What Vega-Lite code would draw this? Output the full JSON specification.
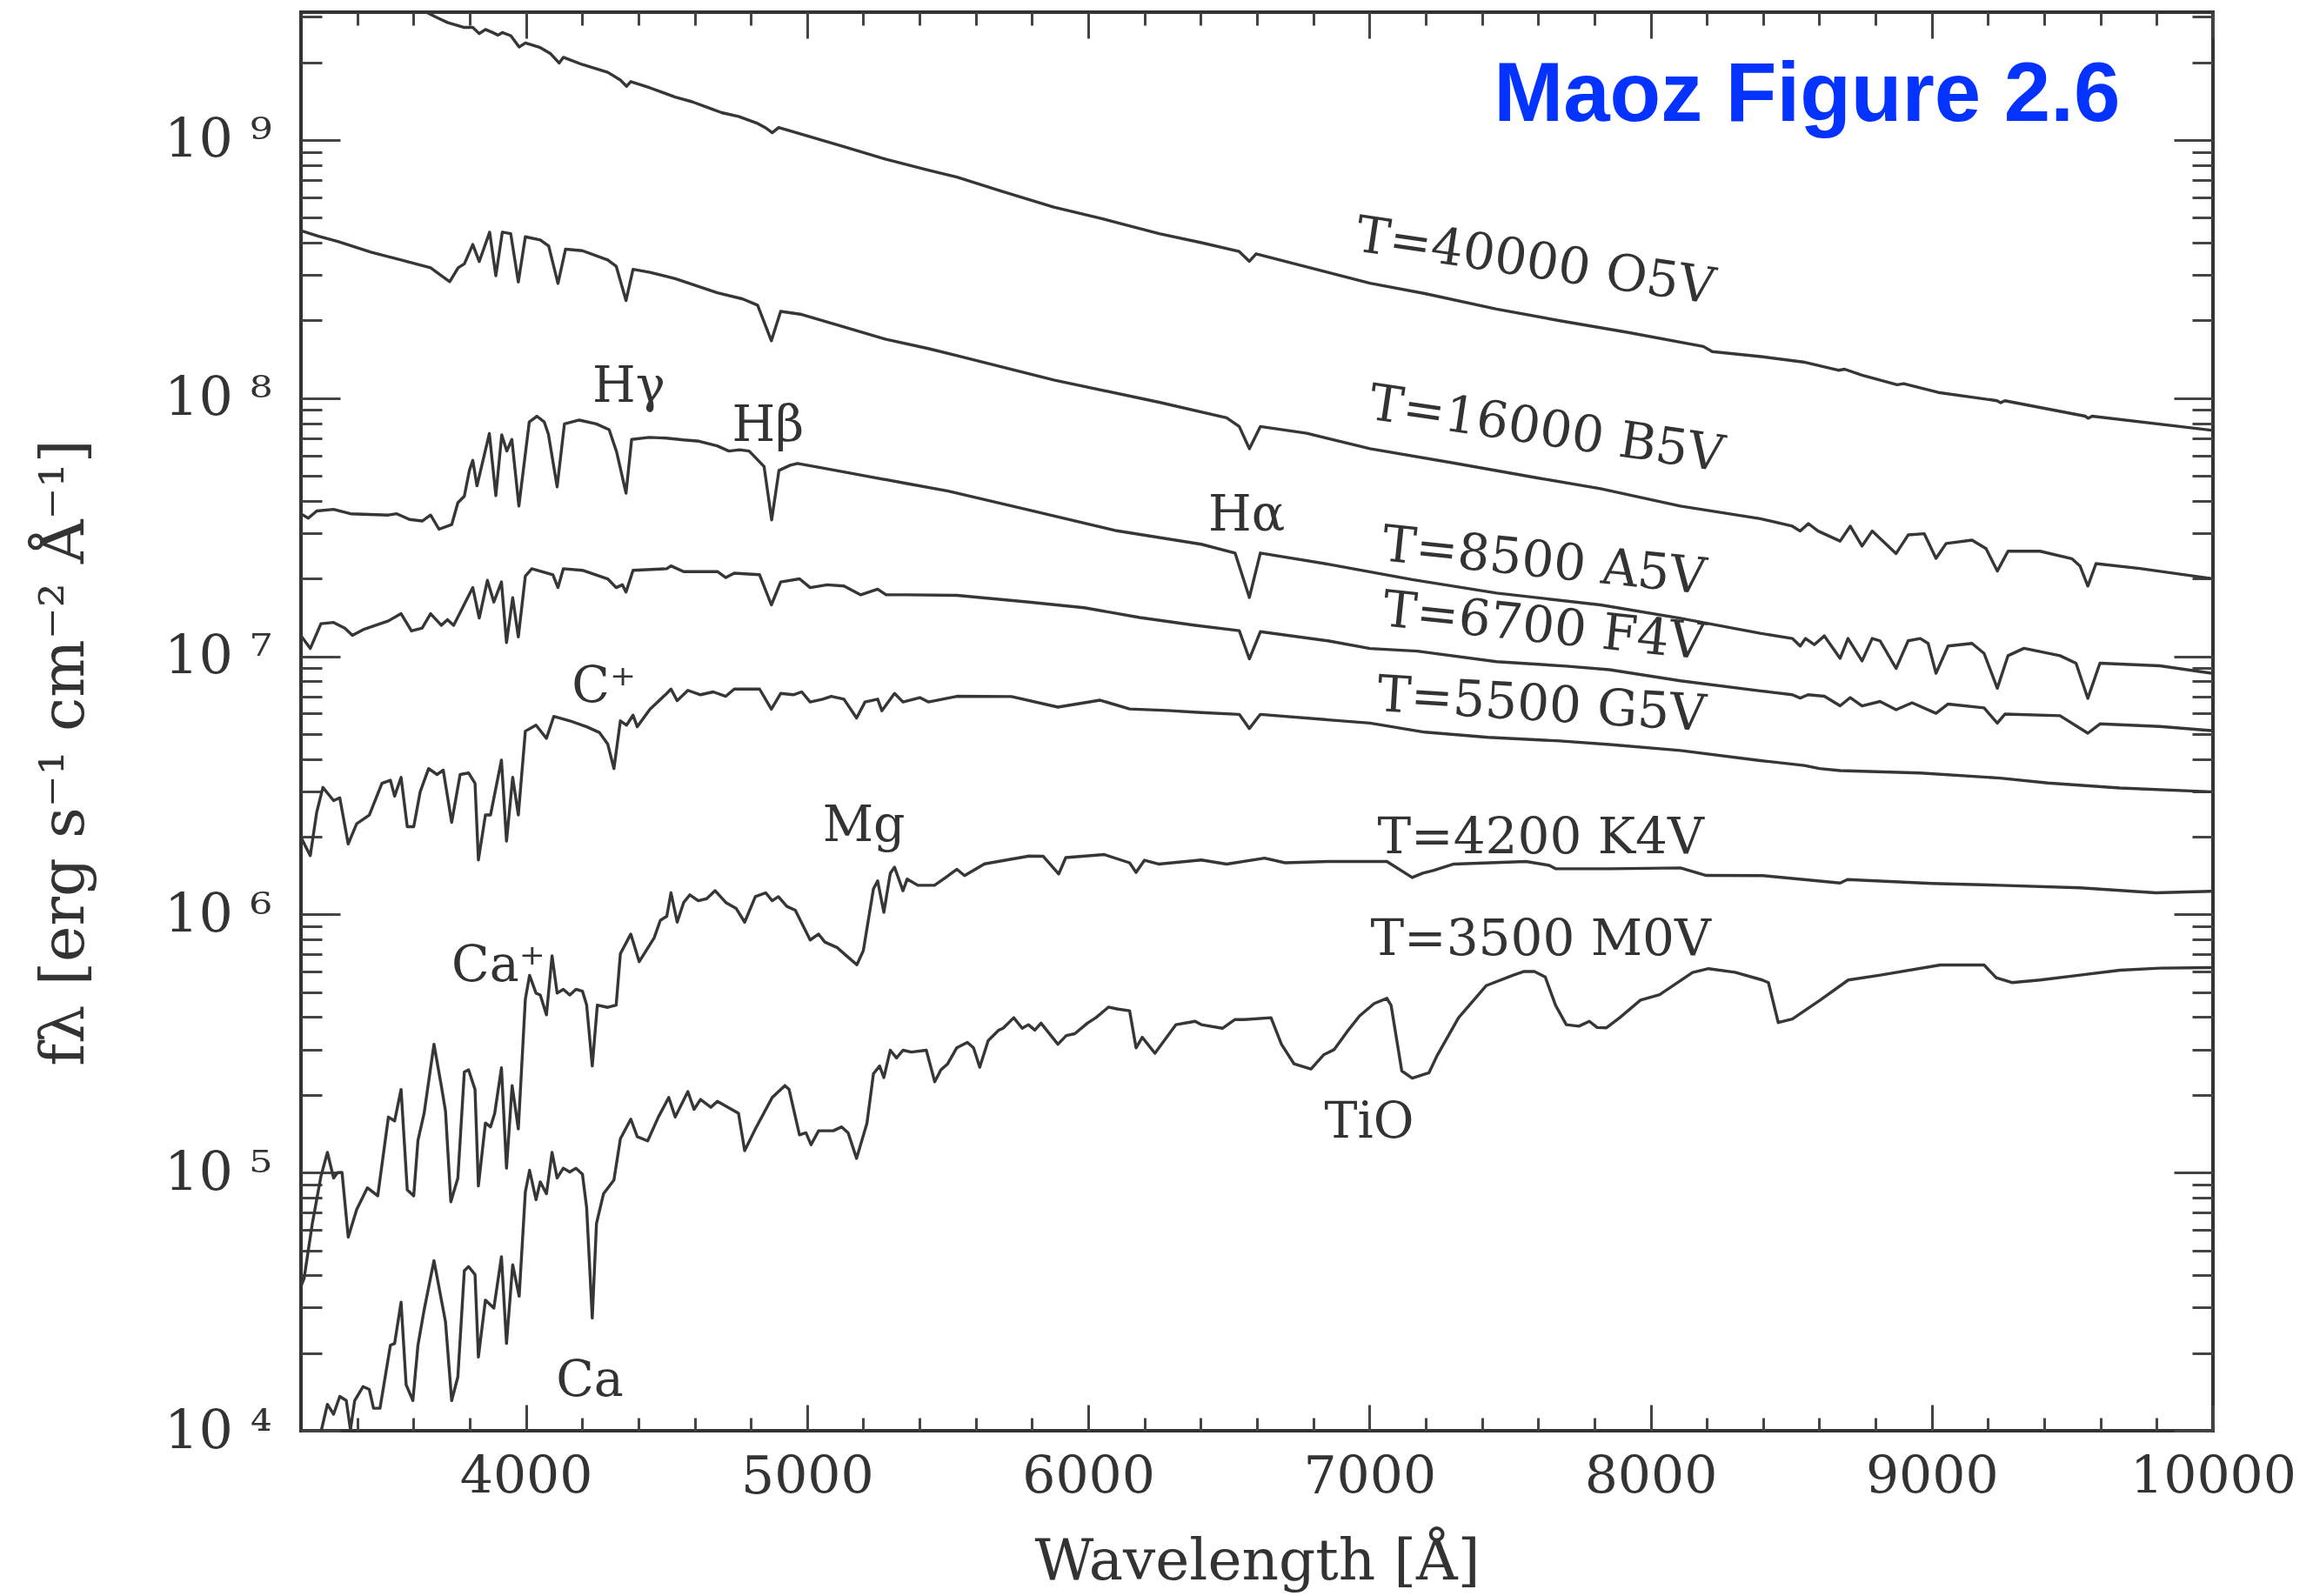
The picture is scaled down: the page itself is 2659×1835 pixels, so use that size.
{
  "$schema": "https://vega.github.io/schema/vega-lite/v6.json",
  "width": 2198,
  "height": 1631,
  "autosize": {"type": "none"},
  "padding": {"left": 346, "top": 14, "right": 115, "bottom": 190},
  "background": "white",
  "config": {
    "view": {"stroke": "#333333", "strokeWidth": 4},
    "axis": {"grid": false, "domain": false}
  },
  "datasets": {
    "spec": [
      {"s":"O5V","w":3600,"f":3.236e9},{"s":"O5V","w":3646,"f":3.126e9},{"s":"O5V","w":3676,"f":3.006e9},{"s":"O5V","w":3721,"f":2.851e9},{"s":"O5V","w":3781,"f":2.729e9},{"s":"O5V","w":3811,"f":2.729e9},{"s":"O5V","w":3834,"f":2.582e9},{"s":"O5V","w":3856,"f":2.679e9},{"s":"O5V","w":3878,"f":2.618e9},{"s":"O5V","w":3901,"f":2.547e9},{"s":"O5V","w":3916,"f":2.606e9},{"s":"O5V","w":3946,"f":2.535e9},{"s":"O5V","w":3976,"f":2.291e9},{"s":"O5V","w":3998,"f":2.377e9},{"s":"O5V","w":4051,"f":2.280e9},{"s":"O5V","w":4088,"f":2.158e9},{"s":"O5V","w":4118,"f":1.986e9},{"s":"O5V","w":4133,"f":2.089e9},{"s":"O5V","w":4201,"f":1.959e9},{"s":"O5V","w":4291,"f":1.828e9},{"s":"O5V","w":4336,"f":1.706e9},{"s":"O5V","w":4358,"f":1.614e9},{"s":"O5V","w":4373,"f":1.683e9},{"s":"O5V","w":4441,"f":1.592e9},{"s":"O5V","w":4531,"f":1.466e9},{"s":"O5V","w":4591,"f":1.406e9},{"s":"O5V","w":4651,"f":1.330e9},{"s":"O5V","w":4696,"f":1.276e9},{"s":"O5V","w":4756,"f":1.233e9},{"s":"O5V","w":4824,"f":1.159e9},{"s":"O5V","w":4854,"f":1.112e9},{"s":"O5V","w":4876,"f":1.067e9},{"s":"O5V","w":4899,"f":1.117e9},{"s":"O5V","w":4981,"f":1.052e9},{"s":"O5V","w":5131,"f":9.419e8},{"s":"O5V","w":5281,"f":8.414e8},{"s":"O5V","w":5431,"f":7.638e8},{"s":"O5V","w":5533,"f":7.178e8},{"s":"O5V","w":5697,"f":6.310e8},{"s":"O5V","w":5877,"f":5.495e8},{"s":"O5V","w":6042,"f":4.977e8},{"s":"O5V","w":6252,"f":4.335e8},{"s":"O5V","w":6402,"f":4.000e8},{"s":"O5V","w":6537,"f":3.698e8},{"s":"O5V","w":6573,"f":3.388e8},{"s":"O5V","w":6597,"f":3.622e8},{"s":"O5V","w":6777,"f":3.221e8},{"s":"O5V","w":7002,"f":2.786e8},{"s":"O5V","w":7197,"f":2.541e8},{"s":"O5V","w":7452,"f":2.213e8},{"s":"O5V","w":7677,"f":1.995e8},{"s":"O5V","w":7916,"f":1.799e8},{"s":"O5V","w":8188,"f":1.585e8},{"s":"O5V","w":8219,"f":1.514e8},{"s":"O5V","w":8400,"f":1.445e8},{"s":"O5V","w":8543,"f":1.380e8},{"s":"O5V","w":8668,"f":1.282e8},{"s":"O5V","w":8690,"f":1.294e8},{"s":"O5V","w":8752,"f":1.227e8},{"s":"O5V","w":8877,"f":1.127e8},{"s":"O5V","w":8900,"f":1.138e8},{"s":"O5V","w":9023,"f":1.052e8},{"s":"O5V","w":9232,"f":9.772e7},{"s":"O5V","w":9245,"f":9.594e7},{"s":"O5V","w":9260,"f":9.772e7},{"s":"O5V","w":9546,"f":8.511e7},{"s":"O5V","w":9556,"f":8.356e7},{"s":"O5V","w":9570,"f":8.511e7},{"s":"O5V","w":10000,"f":7.499e7},

      {"s":"B5V","w":3199,"f":4.457e8},{"s":"B5V","w":3260,"f":4.246e8},{"s":"B5V","w":3331,"f":4.046e8},{"s":"B5V","w":3451,"f":3.673e8},{"s":"B5V","w":3556,"f":3.428e8},{"s":"B5V","w":3661,"f":3.199e8},{"s":"B5V","w":3699,"f":2.985e8},{"s":"B5V","w":3729,"f":2.825e8},{"s":"B5V","w":3759,"f":3.199e8},{"s":"B5V","w":3781,"f":3.311e8},{"s":"B5V","w":3811,"f":3.936e8},{"s":"B5V","w":3834,"f":3.381e8},{"s":"B5V","w":3871,"f":4.395e8},{"s":"B5V","w":3893,"f":2.979e8},{"s":"B5V","w":3916,"f":4.395e8},{"s":"B5V","w":3946,"f":4.335e8},{"s":"B5V","w":3973,"f":2.818e8},{"s":"B5V","w":3998,"f":4.217e8},{"s":"B5V","w":4051,"f":4.102e8},{"s":"B5V","w":4081,"f":3.882e8},{"s":"B5V","w":4114,"f":2.780e8},{"s":"B5V","w":4141,"f":3.776e8},{"s":"B5V","w":4201,"f":3.724e8},{"s":"B5V","w":4291,"f":3.428e8},{"s":"B5V","w":4321,"f":3.243e8},{"s":"B5V","w":4356,"f":2.388e8},{"s":"B5V","w":4381,"f":3.155e8},{"s":"B5V","w":4441,"f":3.069e8},{"s":"B5V","w":4531,"f":2.904e8},{"s":"B5V","w":4681,"f":2.559e8},{"s":"B5V","w":4771,"f":2.421e8},{"s":"B5V","w":4824,"f":2.291e8},{"s":"B5V","w":4873,"f":1.667e8},{"s":"B5V","w":4906,"f":2.168e8},{"s":"B5V","w":4981,"f":2.109e8},{"s":"B5V","w":5131,"f":1.888e8},{"s":"B5V","w":5281,"f":1.690e8},{"s":"B5V","w":5431,"f":1.556e8},{"s":"B5V","w":5533,"f":1.462e8},{"s":"B5V","w":5877,"f":1.175e8},{"s":"B5V","w":6252,"f":9.638e7},{"s":"B5V","w":6492,"f":8.395e7},{"s":"B5V","w":6537,"f":7.762e7},{"s":"B5V","w":6573,"f":6.368e7},{"s":"B5V","w":6612,"f":7.762e7},{"s":"B5V","w":6777,"f":7.311e7},{"s":"B5V","w":7002,"f":6.368e7},{"s":"B5V","w":7302,"f":5.598e7},{"s":"B5V","w":7602,"f":4.898e7},{"s":"B5V","w":7822,"f":4.457e7},{"s":"B5V","w":8106,"f":3.819e7},{"s":"B5V","w":8390,"f":3.412e7},{"s":"B5V","w":8504,"f":3.192e7},{"s":"B5V","w":8532,"f":3.055e7},{"s":"B5V","w":8561,"f":3.266e7},{"s":"B5V","w":8596,"f":3.055e7},{"s":"B5V","w":8674,"f":2.793e7},{"s":"B5V","w":8710,"f":3.192e7},{"s":"B5V","w":8752,"f":2.673e7},{"s":"B5V","w":8788,"f":3.055e7},{"s":"B5V","w":8873,"f":2.500e7},{"s":"B5V","w":8916,"f":2.951e7},{"s":"B5V","w":8973,"f":2.985e7},{"s":"B5V","w":9015,"f":2.393e7},{"s":"B5V","w":9051,"f":2.735e7},{"s":"B5V","w":9143,"f":2.818e7},{"s":"B5V","w":9193,"f":2.612e7},{"s":"B5V","w":9233,"f":2.138e7},{"s":"B5V","w":9271,"f":2.553e7},{"s":"B5V","w":9385,"f":2.553e7},{"s":"B5V","w":9498,"f":2.388e7},{"s":"B5V","w":9527,"f":2.239e7},{"s":"B5V","w":9555,"f":1.871e7},{"s":"B5V","w":9584,"f":2.286e7},{"s":"B5V","w":9740,"f":2.188e7},{"s":"B5V","w":9996,"f":2.000e7},

      {"s":"A5V","w":3199,"f":3.565e7},{"s":"A5V","w":3226,"f":3.428e7},{"s":"A5V","w":3256,"f":3.656e7},{"s":"A5V","w":3316,"f":3.707e7},{"s":"A5V","w":3376,"f":3.565e7},{"s":"A5V","w":3511,"f":3.524e7},{"s":"A5V","w":3541,"f":3.565e7},{"s":"A5V","w":3586,"f":3.388e7},{"s":"A5V","w":3631,"f":3.342e7},{"s":"A5V","w":3661,"f":3.524e7},{"s":"A5V","w":3691,"f":3.105e7},{"s":"A5V","w":3736,"f":3.236e7},{"s":"A5V","w":3758,"f":3.936e7},{"s":"A5V","w":3781,"f":4.169e7},{"s":"A5V","w":3799,"f":5.248e7},{"s":"A5V","w":3811,"f":5.741e7},{"s":"A5V","w":3826,"f":4.571e7},{"s":"A5V","w":3870,"f":7.295e7},{"s":"A5V","w":3893,"f":4.188e7},{"s":"A5V","w":3914,"f":7.211e7},{"s":"A5V","w":3932,"f":6.237e7},{"s":"A5V","w":3950,"f":6.918e7},{"s":"A5V","w":3975,"f":3.819e7},{"s":"A5V","w":4012,"f":8.091e7},{"s":"A5V","w":4039,"f":8.511e7},{"s":"A5V","w":4065,"f":8.091e7},{"s":"A5V","w":4080,"f":7.244e7},{"s":"A5V","w":4111,"f":4.529e7},{"s":"A5V","w":4137,"f":7.943e7},{"s":"A5V","w":4190,"f":8.222e7},{"s":"A5V","w":4250,"f":7.943e7},{"s":"A5V","w":4296,"f":7.551e7},{"s":"A5V","w":4323,"f":6.166e7},{"s":"A5V","w":4356,"f":4.285e7},{"s":"A5V","w":4376,"f":6.918e7},{"s":"A5V","w":4438,"f":7.047e7},{"s":"A5V","w":4500,"f":6.998e7},{"s":"A5V","w":4560,"f":6.887e7},{"s":"A5V","w":4616,"f":6.808e7},{"s":"A5V","w":4680,"f":6.531e7},{"s":"A5V","w":4722,"f":6.237e7},{"s":"A5V","w":4760,"f":6.310e7},{"s":"A5V","w":4794,"f":6.237e7},{"s":"A5V","w":4847,"f":5.433e7},{"s":"A5V","w":4874,"f":3.373e7},{"s":"A5V","w":4900,"f":5.248e7},{"s":"A5V","w":4940,"f":5.495e7},{"s":"A5V","w":4966,"f":5.585e7},{"s":"A5V","w":5056,"f":5.358e7},{"s":"A5V","w":5206,"f":5.000e7},{"s":"A5V","w":5356,"f":4.667e7},{"s":"A5V","w":5502,"f":4.365e7},{"s":"A5V","w":5802,"f":3.656e7},{"s":"A5V","w":6102,"f":3.062e7},{"s":"A5V","w":6402,"f":2.716e7},{"s":"A5V","w":6522,"f":2.512e7},{"s":"A5V","w":6573,"f":1.690e7},{"s":"A5V","w":6612,"f":2.512e7},{"s":"A5V","w":6852,"f":2.275e7},{"s":"A5V","w":7152,"f":1.982e7},{"s":"A5V","w":7452,"f":1.758e7},{"s":"A5V","w":7822,"f":1.581e7},{"s":"A5V","w":8106,"f":1.403e7},{"s":"A5V","w":8390,"f":1.227e7},{"s":"A5V","w":8504,"f":1.172e7},{"s":"A5V","w":8532,"f":1.096e7},{"s":"A5V","w":8551,"f":1.172e7},{"s":"A5V","w":8582,"f":1.109e7},{"s":"A5V","w":8618,"f":1.199e7},{"s":"A5V","w":8674,"f":9.817e6},{"s":"A5V","w":8702,"f":1.172e7},{"s":"A5V","w":8752,"f":9.594e6},{"s":"A5V","w":8788,"f":1.172e7},{"s":"A5V","w":8816,"f":1.148e7},{"s":"A5V","w":8873,"f":8.974e6},{"s":"A5V","w":8916,"f":1.148e7},{"s":"A5V","w":8959,"f":1.172e7},{"s":"A5V","w":8987,"f":1.122e7},{"s":"A5V","w":9015,"f":8.590e6},{"s":"A5V","w":9058,"f":1.096e7},{"s":"A5V","w":9143,"f":1.122e7},{"s":"A5V","w":9186,"f":1.026e7},{"s":"A5V","w":9233,"f":7.516e6},{"s":"A5V","w":9271,"f":1.005e7},{"s":"A5V","w":9328,"f":1.074e7},{"s":"A5V","w":9456,"f":1.005e7},{"s":"A5V","w":9513,"f":9.397e6},{"s":"A5V","w":9555,"f":6.871e6},{"s":"A5V","w":9598,"f":9.397e6},{"s":"A5V","w":9811,"f":9.183e6},{"s":"A5V","w":9996,"f":8.590e6},

      {"s":"F4V","w":3199,"f":1.205e7},{"s":"F4V","w":3233,"f":1.072e7},{"s":"F4V","w":3271,"f":1.337e7},{"s":"F4V","w":3316,"f":1.352e7},{"s":"F4V","w":3356,"f":1.285e7},{"s":"F4V","w":3383,"f":1.205e7},{"s":"F4V","w":3421,"f":1.268e7},{"s":"F4V","w":3511,"f":1.371e7},{"s":"F4V","w":3556,"f":1.462e7},{"s":"F4V","w":3593,"f":1.253e7},{"s":"F4V","w":3631,"f":1.285e7},{"s":"F4V","w":3661,"f":1.462e7},{"s":"F4V","w":3699,"f":1.318e7},{"s":"F4V","w":3721,"f":1.387e7},{"s":"F4V","w":3743,"f":1.318e7},{"s":"F4V","w":3811,"f":1.845e7},{"s":"F4V","w":3834,"f":1.406e7},{"s":"F4V","w":3863,"f":1.968e7},{"s":"F4V","w":3886,"f":1.622e7},{"s":"F4V","w":3913,"f":1.941e7},{"s":"F4V","w":3931,"f":1.130e7},{"s":"F4V","w":3953,"f":1.687e7},{"s":"F4V","w":3973,"f":1.189e7},{"s":"F4V","w":3998,"f":2.046e7},{"s":"F4V","w":4021,"f":2.183e7},{"s":"F4V","w":4096,"f":2.070e7},{"s":"F4V","w":4114,"f":1.845e7},{"s":"F4V","w":4133,"f":2.183e7},{"s":"F4V","w":4201,"f":2.153e7},{"s":"F4V","w":4291,"f":1.995e7},{"s":"F4V","w":4321,"f":1.845e7},{"s":"F4V","w":4343,"f":1.892e7},{"s":"F4V","w":4356,"f":1.774e7},{"s":"F4V","w":4381,"f":2.153e7},{"s":"F4V","w":4501,"f":2.183e7},{"s":"F4V","w":4516,"f":2.239e7},{"s":"F4V","w":4561,"f":2.128e7},{"s":"F4V","w":4681,"f":2.128e7},{"s":"F4V","w":4711,"f":2.018e7},{"s":"F4V","w":4741,"f":2.099e7},{"s":"F4V","w":4831,"f":2.070e7},{"s":"F4V","w":4873,"f":1.581e7},{"s":"F4V","w":4906,"f":1.941e7},{"s":"F4V","w":4973,"f":1.995e7},{"s":"F4V","w":5011,"f":1.845e7},{"s":"F4V","w":5071,"f":1.892e7},{"s":"F4V","w":5131,"f":1.871e7},{"s":"F4V","w":5191,"f":1.730e7},{"s":"F4V","w":5251,"f":1.820e7},{"s":"F4V","w":5281,"f":1.730e7},{"s":"F4V","w":5356,"f":1.730e7},{"s":"F4V","w":5533,"f":1.722e7},{"s":"F4V","w":5789,"f":1.622e7},{"s":"F4V","w":5986,"f":1.542e7},{"s":"F4V","w":6183,"f":1.413e7},{"s":"F4V","w":6381,"f":1.318e7},{"s":"F4V","w":6537,"f":1.256e7},{"s":"F4V","w":6573,"f":9.772e6},{"s":"F4V","w":6612,"f":1.245e7},{"s":"F4V","w":6852,"f":1.148e7},{"s":"F4V","w":7002,"f":1.072e7},{"s":"F4V","w":7170,"f":1.047e7},{"s":"F4V","w":7452,"f":9.528e6},{"s":"F4V","w":7699,"f":9.162e6},{"s":"F4V","w":7854,"f":8.872e6},{"s":"F4V","w":8106,"f":8.035e6},{"s":"F4V","w":8390,"f":7.345e6},{"s":"F4V","w":8504,"f":7.096e6},{"s":"F4V","w":8532,"f":6.887e6},{"s":"F4V","w":8560,"f":7.096e6},{"s":"F4V","w":8618,"f":6.998e6},{"s":"F4V","w":8674,"f":6.427e6},{"s":"F4V","w":8710,"f":6.918e6},{"s":"F4V","w":8752,"f":6.427e6},{"s":"F4V","w":8816,"f":6.683e6},{"s":"F4V","w":8873,"f":6.209e6},{"s":"F4V","w":8930,"f":6.607e6},{"s":"F4V","w":9015,"f":6.012e6},{"s":"F4V","w":9058,"f":6.531e6},{"s":"F4V","w":9186,"f":6.310e6},{"s":"F4V","w":9233,"f":5.508e6},{"s":"F4V","w":9260,"f":5.970e6},{"s":"F4V","w":9456,"f":5.888e6},{"s":"F4V","w":9555,"f":5.035e6},{"s":"F4V","w":9598,"f":5.470e6},{"s":"F4V","w":9811,"f":5.346e6},{"s":"F4V","w":9996,"f":5.152e6},

      {"s":"G5V","w":3199,"f":2.000e6},{"s":"G5V","w":3233,"f":1.690e6},{"s":"G5V","w":3256,"f":2.489e6},{"s":"G5V","w":3278,"f":3.105e6},{"s":"G5V","w":3316,"f":2.761e6},{"s":"G5V","w":3338,"f":2.831e6},{"s":"G5V","w":3368,"f":1.875e6},{"s":"G5V","w":3398,"f":2.244e6},{"s":"G5V","w":3443,"f":2.427e6},{"s":"G5V","w":3488,"f":3.221e6},{"s":"G5V","w":3518,"f":3.311e6},{"s":"G5V","w":3533,"f":2.871e6},{"s":"G5V","w":3556,"f":3.396e6},{"s":"G5V","w":3578,"f":2.188e6},{"s":"G5V","w":3601,"f":2.188e6},{"s":"G5V","w":3624,"f":2.985e6},{"s":"G5V","w":3654,"f":3.673e6},{"s":"G5V","w":3684,"f":3.483e6},{"s":"G5V","w":3706,"f":3.622e6},{"s":"G5V","w":3736,"f":2.275e6},{"s":"G5V","w":3766,"f":3.483e6},{"s":"G5V","w":3796,"f":3.532e6},{"s":"G5V","w":3819,"f":3.221e6},{"s":"G5V","w":3831,"f":1.626e6},{"s":"G5V","w":3856,"f":2.427e6},{"s":"G5V","w":3874,"f":2.427e6},{"s":"G5V","w":3913,"f":3.963e6},{"s":"G5V","w":3931,"f":1.923e6},{"s":"G5V","w":3953,"f":3.396e6},{"s":"G5V","w":3973,"f":2.427e6},{"s":"G5V","w":3998,"f":5.129e6},{"s":"G5V","w":4036,"f":5.408e6},{"s":"G5V","w":4073,"f":4.808e6},{"s":"G5V","w":4099,"f":5.848e6},{"s":"G5V","w":4156,"f":5.623e6},{"s":"G5V","w":4216,"f":5.333e6},{"s":"G5V","w":4261,"f":5.070e6},{"s":"G5V","w":4291,"f":4.571e6},{"s":"G5V","w":4313,"f":3.673e6},{"s":"G5V","w":4336,"f":5.623e6},{"s":"G5V","w":4358,"f":5.408e6},{"s":"G5V","w":4381,"f":5.916e6},{"s":"G5V","w":4396,"f":5.333e6},{"s":"G5V","w":4441,"f":6.237e6},{"s":"G5V","w":4501,"f":7.178e6},{"s":"G5V","w":4516,"f":7.464e6},{"s":"G5V","w":4538,"f":6.730e6},{"s":"G5V","w":4576,"f":7.379e6},{"s":"G5V","w":4621,"f":7.096e6},{"s":"G5V","w":4666,"f":7.278e6},{"s":"G5V","w":4711,"f":6.998e6},{"s":"G5V","w":4741,"f":7.464e6},{"s":"G5V","w":4831,"f":7.464e6},{"s":"G5V","w":4873,"f":6.237e6},{"s":"G5V","w":4906,"f":7.178e6},{"s":"G5V","w":4951,"f":7.096e6},{"s":"G5V","w":4981,"f":7.278e6},{"s":"G5V","w":5011,"f":6.653e6},{"s":"G5V","w":5056,"f":6.823e6},{"s":"G5V","w":5086,"f":6.998e6},{"s":"G5V","w":5131,"f":6.823e6},{"s":"G5V","w":5176,"f":5.768e6},{"s":"G5V","w":5206,"f":6.653e6},{"s":"G5V","w":5251,"f":6.823e6},{"s":"G5V","w":5266,"f":6.152e6},{"s":"G5V","w":5311,"f":7.178e6},{"s":"G5V","w":5341,"f":6.653e6},{"s":"G5V","w":5401,"f":6.918e6},{"s":"G5V","w":5431,"f":6.653e6},{"s":"G5V","w":5533,"f":6.998e6},{"s":"G5V","w":5727,"f":6.982e6},{"s":"G5V","w":5892,"f":6.353e6},{"s":"G5V","w":6042,"f":6.761e6},{"s":"G5V","w":6147,"f":6.252e6},{"s":"G5V","w":6280,"f":6.166e6},{"s":"G5V","w":6402,"f":6.053e6},{"s":"G5V","w":6537,"f":5.957e6},{"s":"G5V","w":6573,"f":5.248e6},{"s":"G5V","w":6612,"f":5.957e6},{"s":"G5V","w":6852,"f":5.675e6},{"s":"G5V","w":7002,"f":5.508e6},{"s":"G5V","w":7197,"f":5.082e6},{"s":"G5V","w":7422,"f":4.853e6},{"s":"G5V","w":7677,"f":4.699e6},{"s":"G5V","w":7854,"f":4.550e6},{"s":"G5V","w":8106,"f":4.315e6},{"s":"G5V","w":8390,"f":3.945e6},{"s":"G5V","w":8547,"f":3.776e6},{"s":"G5V","w":8600,"f":3.673e6},{"s":"G5V","w":8674,"f":3.606e6},{"s":"G5V","w":8959,"f":3.532e6},{"s":"G5V","w":9243,"f":3.373e6},{"s":"G5V","w":9413,"f":3.228e6},{"s":"G5V","w":9669,"f":3.090e6},{"s":"G5V","w":9996,"f":2.985e6},

      {"s":"K4V","w":3200,"f":3.631e4},{"s":"K4V","w":3211,"f":3.890e4},{"s":"K4V","w":3240,"f":6.310e4},{"s":"K4V","w":3271,"f":9.683e4},{"s":"K4V","w":3294,"f":1.197e5},{"s":"K4V","w":3316,"f":9.528e4},{"s":"K4V","w":3330,"f":1.000e5},{"s":"K4V","w":3346,"f":1.002e5},{"s":"K4V","w":3368,"f":5.623e4},{"s":"K4V","w":3398,"f":7.194e4},{"s":"K4V","w":3436,"f":8.730e4},{"s":"K4V","w":3473,"f":8.128e4},{"s":"K4V","w":3511,"f":1.641e5},{"s":"K4V","w":3533,"f":1.585e5},{"s":"K4V","w":3556,"f":2.099e5},{"s":"K4V","w":3578,"f":8.570e4},{"s":"K4V","w":3601,"f":8.128e4},{"s":"K4V","w":3616,"f":1.330e5},{"s":"K4V","w":3638,"f":1.698e5},{"s":"K4V","w":3673,"f":3.141e5},{"s":"K4V","w":3699,"f":2.173e5},{"s":"K4V","w":3714,"f":1.730e5},{"s":"K4V","w":3733,"f":7.709e4},{"s":"K4V","w":3758,"f":9.528e4},{"s":"K4V","w":3781,"f":2.455e5},{"s":"K4V","w":3796,"f":2.500e5},{"s":"K4V","w":3819,"f":2.099e5},{"s":"K4V","w":3831,"f":8.872e4},{"s":"K4V","w":3856,"f":1.556e5},{"s":"K4V","w":3874,"f":1.503e5},{"s":"K4V","w":3889,"f":1.698e5},{"s":"K4V","w":3913,"f":2.547e5},{"s":"K4V","w":3931,"f":1.040e5},{"s":"K4V","w":3951,"f":2.173e5},{"s":"K4V","w":3973,"f":1.476e5},{"s":"K4V","w":3998,"f":4.699e5},{"s":"K4V","w":4013,"f":5.808e5},{"s":"K4V","w":4036,"f":4.955e5},{"s":"K4V","w":4051,"f":4.875e5},{"s":"K4V","w":4073,"f":4.083e5},{"s":"K4V","w":4093,"f":6.918e5},{"s":"K4V","w":4111,"f":4.955e5},{"s":"K4V","w":4133,"f":5.129e5},{"s":"K4V","w":4156,"f":4.875e5},{"s":"K4V","w":4178,"f":5.129e5},{"s":"K4V","w":4201,"f":5.047e5},{"s":"K4V","w":4216,"f":4.457e5},{"s":"K4V","w":4236,"f":2.588e5},{"s":"K4V","w":4254,"f":4.457e5},{"s":"K4V","w":4291,"f":4.365e5},{"s":"K4V","w":4321,"f":4.457e5},{"s":"K4V","w":4336,"f":7.047e5},{"s":"K4V","w":4373,"f":8.395e5},{"s":"K4V","w":4403,"f":6.561e5},{"s":"K4V","w":4456,"f":8.110e5},{"s":"K4V","w":4478,"f":9.484e5},{"s":"K4V","w":4501,"f":9.840e5},{"s":"K4V","w":4516,"f":1.213e6},{"s":"K4V","w":4538,"f":9.333e5},{"s":"K4V","w":4561,"f":1.112e6},{"s":"K4V","w":4583,"f":1.191e6},{"s":"K4V","w":4613,"f":1.130e6},{"s":"K4V","w":4643,"f":1.151e6},{"s":"K4V","w":4673,"f":1.236e6},{"s":"K4V","w":4711,"f":1.112e6},{"s":"K4V","w":4748,"f":1.054e6},{"s":"K4V","w":4778,"f":9.333e5},{"s":"K4V","w":4816,"f":1.172e6},{"s":"K4V","w":4853,"f":1.213e6},{"s":"K4V","w":4876,"f":1.130e6},{"s":"K4V","w":4898,"f":1.172e6},{"s":"K4V","w":4928,"f":1.074e6},{"s":"K4V","w":4958,"f":1.038e6},{"s":"K4V","w":5011,"f":7.962e5},{"s":"K4V","w":5041,"f":8.395e5},{"s":"K4V","w":5063,"f":7.816e5},{"s":"K4V","w":5108,"f":7.430e5},{"s":"K4V","w":5140,"f":6.918e5},{"s":"K4V","w":5177,"f":6.383e5},{"s":"K4V","w":5200,"f":7.244e5},{"s":"K4V","w":5236,"f":1.256e6},{"s":"K4V","w":5251,"f":1.349e6},{"s":"K4V","w":5273,"f":1.019e6},{"s":"K4V","w":5296,"f":1.445e6},{"s":"K4V","w":5311,"f":1.524e6},{"s":"K4V","w":5341,"f":1.236e6},{"s":"K4V","w":5356,"f":1.371e6},{"s":"K4V","w":5394,"f":1.297e6},{"s":"K4V","w":5453,"f":1.297e6},{"s":"K4V","w":5493,"f":1.390e6},{"s":"K4V","w":5533,"f":1.496e6},{"s":"K4V","w":5560,"f":1.413e6},{"s":"K4V","w":5631,"f":1.570e6},{"s":"K4V","w":5710,"f":1.626e6},{"s":"K4V","w":5789,"f":1.683e6},{"s":"K4V","w":5840,"f":1.679e6},{"s":"K4V","w":5895,"f":1.435e6},{"s":"K4V","w":5920,"f":1.660e6},{"s":"K4V","w":6057,"f":1.706e6},{"s":"K4V","w":6147,"f":1.585e6},{"s":"K4V","w":6170,"f":1.455e6},{"s":"K4V","w":6200,"f":1.622e6},{"s":"K4V","w":6250,"f":1.567e6},{"s":"K4V","w":6402,"f":1.626e6},{"s":"K4V","w":6492,"f":1.567e6},{"s":"K4V","w":6627,"f":1.652e6},{"s":"K4V","w":6700,"f":1.585e6},{"s":"K4V","w":6852,"f":1.603e6},{"s":"K4V","w":7062,"f":1.603e6},{"s":"K4V","w":7152,"f":1.390e6},{"s":"K4V","w":7190,"f":1.445e6},{"s":"K4V","w":7227,"f":1.479e6},{"s":"K4V","w":7300,"f":1.567e6},{"s":"K4V","w":7557,"f":1.603e6},{"s":"K4V","w":7640,"f":1.549e6},{"s":"K4V","w":7662,"f":1.503e6},{"s":"K4V","w":7854,"f":1.503e6},{"s":"K4V","w":8106,"f":1.514e6},{"s":"K4V","w":8198,"f":1.416e6},{"s":"K4V","w":8400,"f":1.413e6},{"s":"K4V","w":8674,"f":1.324e6},{"s":"K4V","w":8700,"f":1.365e6},{"s":"K4V","w":9000,"f":1.318e6},{"s":"K4V","w":9243,"f":1.297e6},{"s":"K4V","w":9527,"f":1.268e6},{"s":"K4V","w":9797,"f":1.213e6},{"s":"K4V","w":9996,"f":1.230e6},

      {"s":"M0V","w":3250,"f":8.913e3},{"s":"M0V","w":3271,"f":9.886e3},{"s":"M0V","w":3294,"f":1.265e4},{"s":"M0V","w":3316,"f":1.159e4},{"s":"M0V","w":3338,"f":1.358e4},{"s":"M0V","w":3361,"f":1.309e4},{"s":"M0V","w":3376,"f":1.007e4},{"s":"M0V","w":3391,"f":1.309e4},{"s":"M0V","w":3421,"f":1.483e4},{"s":"M0V","w":3443,"f":1.445e4},{"s":"M0V","w":3458,"f":1.222e4},{"s":"M0V","w":3481,"f":1.222e4},{"s":"M0V","w":3518,"f":2.143e4},{"s":"M0V","w":3533,"f":2.178e4},{"s":"M0V","w":3556,"f":3.148e4},{"s":"M0V","w":3574,"f":1.507e4},{"s":"M0V","w":3598,"f":1.309e4},{"s":"M0V","w":3616,"f":2.143e4},{"s":"M0V","w":3638,"f":2.938e4},{"s":"M0V","w":3673,"f":4.560e4},{"s":"M0V","w":3714,"f":2.642e4},{"s":"M0V","w":3736,"f":1.309e4},{"s":"M0V","w":3758,"f":1.618e4},{"s":"M0V","w":3781,"f":4.169e4},{"s":"M0V","w":3796,"f":4.325e4},{"s":"M0V","w":3819,"f":4.027e4},{"s":"M0V","w":3831,"f":1.928e4},{"s":"M0V","w":3856,"f":3.206e4},{"s":"M0V","w":3886,"f":2.985e4},{"s":"M0V","w":3913,"f":4.721e4},{"s":"M0V","w":3931,"f":2.178e4},{"s":"M0V","w":3953,"f":4.395e4},{"s":"M0V","w":3976,"f":3.319e4},{"s":"M0V","w":3998,"f":8.414e4},{"s":"M0V","w":4013,"f":1.021e5},{"s":"M0V","w":4036,"f":7.852e4},{"s":"M0V","w":4051,"f":9.204e4},{"s":"M0V","w":4073,"f":8.279e4},{"s":"M0V","w":4093,"f":1.197e5},{"s":"M0V","w":4111,"f":9.528e4},{"s":"M0V","w":4133,"f":1.040e5},{"s":"M0V","w":4156,"f":1.005e5},{"s":"M0V","w":4178,"f":1.040e5},{"s":"M0V","w":4201,"f":9.863e4},{"s":"M0V","w":4216,"f":7.311e4},{"s":"M0V","w":4236,"f":2.735e4},{"s":"M0V","w":4251,"f":6.353e4},{"s":"M0V","w":4276,"f":8.279e4},{"s":"M0V","w":4313,"f":9.354e4},{"s":"M0V","w":4336,"f":1.352e5},{"s":"M0V","w":4373,"f":1.611e5},{"s":"M0V","w":4396,"f":1.377e5},{"s":"M0V","w":4433,"f":1.327e5},{"s":"M0V","w":4471,"f":1.641e5},{"s":"M0V","w":4508,"f":1.954e5},{"s":"M0V","w":4531,"f":1.641e5},{"s":"M0V","w":4576,"f":2.061e5},{"s":"M0V","w":4598,"f":1.758e5},{"s":"M0V","w":4621,"f":1.919e5},{"s":"M0V","w":4658,"f":1.791e5},{"s":"M0V","w":4681,"f":1.888e5},{"s":"M0V","w":4756,"f":1.698e5},{"s":"M0V","w":4778,"f":1.216e5},{"s":"M0V","w":4816,"f":1.476e5},{"s":"M0V","w":4876,"f":1.954e5},{"s":"M0V","w":4921,"f":2.173e5},{"s":"M0V","w":4936,"f":2.099e5},{"s":"M0V","w":4973,"f":1.400e5},{"s":"M0V","w":4996,"f":1.426e5},{"s":"M0V","w":5014,"f":1.282e5},{"s":"M0V","w":5041,"f":1.452e5},{"s":"M0V","w":5093,"f":1.452e5},{"s":"M0V","w":5123,"f":1.503e5},{"s":"M0V","w":5146,"f":1.426e5},{"s":"M0V","w":5176,"f":1.135e5},{"s":"M0V","w":5213,"f":1.556e5},{"s":"M0V","w":5236,"f":2.415e5},{"s":"M0V","w":5258,"f":2.588e5},{"s":"M0V","w":5273,"f":2.333e5},{"s":"M0V","w":5296,"f":2.979e5},{"s":"M0V","w":5318,"f":2.780e5},{"s":"M0V","w":5341,"f":2.979e5},{"s":"M0V","w":5371,"f":2.931e5},{"s":"M0V","w":5424,"f":2.979e5},{"s":"M0V","w":5454,"f":2.249e5},{"s":"M0V","w":5476,"f":2.500e5},{"s":"M0V","w":5499,"f":2.630e5},{"s":"M0V","w":5532,"f":3.041e5},{"s":"M0V","w":5570,"f":3.192e5},{"s":"M0V","w":5592,"f":3.041e5},{"s":"M0V","w":5614,"f":2.559e5},{"s":"M0V","w":5644,"f":3.243e5},{"s":"M0V","w":5682,"f":3.565e5},{"s":"M0V","w":5697,"f":3.622e5},{"s":"M0V","w":5735,"f":3.981e5},{"s":"M0V","w":5765,"f":3.622e5},{"s":"M0V","w":5787,"f":3.741e5},{"s":"M0V","w":5810,"f":3.565e5},{"s":"M0V","w":5832,"f":3.793e5},{"s":"M0V","w":5892,"f":3.141e5},{"s":"M0V","w":5922,"f":3.396e5},{"s":"M0V","w":5952,"f":3.451e5},{"s":"M0V","w":5997,"f":3.793e5},{"s":"M0V","w":6027,"f":3.981e5},{"s":"M0V","w":6072,"f":4.375e5},{"s":"M0V","w":6102,"f":4.305e5},{"s":"M0V","w":6147,"f":4.236e5},{"s":"M0V","w":6170,"f":3.041e5},{"s":"M0V","w":6192,"f":3.342e5},{"s":"M0V","w":6237,"f":2.897e5},{"s":"M0V","w":6312,"f":3.741e5},{"s":"M0V","w":6380,"f":3.855e5},{"s":"M0V","w":6402,"f":3.741e5},{"s":"M0V","w":6477,"f":3.622e5},{"s":"M0V","w":6522,"f":3.917e5},{"s":"M0V","w":6555,"f":3.917e5},{"s":"M0V","w":6650,"f":3.981e5},{"s":"M0V","w":6687,"f":3.141e5},{"s":"M0V","w":6732,"f":2.636e5},{"s":"M0V","w":6792,"f":2.518e5},{"s":"M0V","w":6837,"f":2.858e5},{"s":"M0V","w":6875,"f":2.999e5},{"s":"M0V","w":6920,"f":3.508e5},{"s":"M0V","w":6965,"f":4.046e5},{"s":"M0V","w":7017,"f":4.519e5},{"s":"M0V","w":7062,"f":4.732e5},{"s":"M0V","w":7077,"f":4.446e5},{"s":"M0V","w":7115,"f":2.477e5},{"s":"M0V","w":7152,"f":2.323e5},{"s":"M0V","w":7212,"f":2.438e5},{"s":"M0V","w":7242,"f":2.858e5},{"s":"M0V","w":7317,"f":3.981e5},{"s":"M0V","w":7415,"f":5.297e5},{"s":"M0V","w":7512,"f":5.821e5},{"s":"M0V","w":7550,"f":6.012e5},{"s":"M0V","w":7587,"f":6.012e5},{"s":"M0V","w":7625,"f":5.728e5},{"s":"M0V","w":7662,"f":4.446e5},{"s":"M0V","w":7700,"f":3.741e5},{"s":"M0V","w":7745,"f":3.690e5},{"s":"M0V","w":7782,"f":3.855e5},{"s":"M0V","w":7810,"f":3.648e5},{"s":"M0V","w":7843,"f":3.639e5},{"s":"M0V","w":7890,"f":3.981e5},{"s":"M0V","w":7964,"f":4.656e5},{"s":"M0V","w":8032,"f":4.887e5},{"s":"M0V","w":8149,"f":5.957e5},{"s":"M0V","w":8206,"f":6.166e5},{"s":"M0V","w":8300,"f":5.970e5},{"s":"M0V","w":8397,"f":5.572e5},{"s":"M0V","w":8419,"f":5.445e5},{"s":"M0V","w":8454,"f":3.811e5},{"s":"M0V","w":8504,"f":3.936e5},{"s":"M0V","w":8603,"f":4.656e5},{"s":"M0V","w":8703,"f":5.572e5},{"s":"M0V","w":8817,"f":5.821e5},{"s":"M0V","w":9030,"f":6.368e5},{"s":"M0V","w":9186,"f":6.368e5},{"s":"M0V","w":9229,"f":5.689e5},{"s":"M0V","w":9285,"f":5.445e5},{"s":"M0V","w":9385,"f":5.572e5},{"s":"M0V","w":9527,"f":5.821e5},{"s":"M0V","w":9669,"f":6.081e5},{"s":"M0V","w":9811,"f":6.194e5},{"s":"M0V","w":9996,"f":6.223e5}
    ],
    "curvelab": [
      {"t":"T=40000  O5V","w":7590,"f":3.350e8,"a":8.5},
      {"t":"T=16000  B5V","w":7630,"f":7.499e7,"a":8.5},
      {"t":"T=8500  A5V","w":7621,"f":2.312e7,"a":6},
      {"t":"T=6700  F4V","w":7621,"f":1.291e7,"a":6},
      {"t":"T=5500  G5V","w":7612,"f":6.427e6,"a":3.5},
      {"t":"T=4200  K4V","w":7609,"f":1.977e6,"a":0},
      {"t":"T=3500  M0V","w":7609,"f":7.925e5,"a":0}
    ],
    "notes": [
      {"t":"Hγ","w":4366,"f":1.107e8},
      {"t":"Hβ","w":4861,"f":7.798e7},
      {"t":"Hα","w":6563,"f":3.508e7},
      {"t":"C⁺","w":4277,"f":7.621e6},
      {"t":"Mg","w":5202,"f":2.203e6},
      {"t":"Ca⁺","w":3902,"f":6.281e5},
      {"t":"TiO","w":6999,"f":1.556e5},
      {"t":"Ca","w":4227,"f":1.556e4}
    ],
    "heading": [
      {"t":"Maoz Figure 2.6","w":8556,"f":1.186e9}
    ]
  },
  "resolve": {"axis": {"x": "independent", "y": "independent"}},
  "layer": [
    {
      "data": {"name": "spec"},
      "mark": {"type": "line", "stroke": "#363636", "strokeWidth": 3.4, "clip": true, "strokeJoin": "round"},
      "encoding": {
        "x": {"field": "w", "type": "quantitative",
          "scale": {"domain": [3200, 10000], "nice": false, "zero": false},
          "axis": {"orient": "bottom", "values": [4000,5000,6000,7000,8000,9000,10000], "ticks": false, "domain": false, "grid": false,
            "format": "d", "labelFont": "DejaVu Serif", "labelFontSize": 60, "labelColor": "#333333", "labelPadding": 24, "labelFlush": false, "labelOverlap": false, "labelLimit": 0,
            "title": "Wavelength [Å]", "titleFont": "DejaVu Serif", "titleFontSize": 66, "titleFontWeight": "normal", "titleColor": "#333333", "titleLimit": 0,
            "titleY": 170, "titleBaseline": "alphabetic", "titleAnchor": "middle"}},
        "y": {"field": "f", "type": "quantitative",
          "scale": {"type": "log", "domain": [10000, 3126000000], "nice": false},
          "axis": {"orient": "left", "values": [10000,100000,1000000,10000000,100000000,1000000000], "ticks": false, "domain": false, "grid": false,
            "labelExpr": "'10 ' + ['⁰','¹','²','³','⁴','⁵','⁶','⁷','⁸','⁹'][round(log(datum.value)/LN10)]",
            "labelFont": "DejaVu Serif", "labelFontSize": 62, "labelColor": "#333333", "labelPadding": 34, "labelOverlap": false, "labelFlush": false, "labelLimit": 0,
            "title": "fλ [erg s⁻¹ cm⁻² Å⁻¹]", "titleFont": "DejaVu Serif", "titleFontSize": 70, "titleFontWeight": "normal", "titleColor": "#333333", "titleLimit": 0,
            "titleX": -272, "titleY": 851, "titleAngle": -90, "titleBaseline": "middle", "titleAlign": "center"}},
        "detail": {"field": "s", "type": "nominal"}
      }
    },
    {
      "data": {"name": "curvelab"},
      "mark": {"type": "text", "font": "DejaVu Serif", "fontSize": 58, "color": "#333333", "align": "center", "baseline": "middle"},
      "encoding": {
        "x": {"field": "w", "type": "quantitative", "scale": {"domain": [3200, 10000], "nice": false, "zero": false},
          "axis": {"orient": "bottom", "values": [4000,5000,6000,7000,8000,9000,10000], "labels": false, "domain": false, "grid": false, "ticks": true, "tickSize": -30, "tickWidth": 3, "tickColor": "#444444", "title": null}},
        "y": {"field": "f", "type": "quantitative", "scale": {"type": "log", "domain": [10000, 3126000000], "nice": false},
          "axis": {"orient": "left", "values": [10000,100000,1000000,10000000,100000000,1000000000], "labels": false, "domain": false, "grid": false, "ticks": true, "tickSize": -45, "tickWidth": 3, "tickColor": "#444444", "title": null}},
        "text": {"field": "t", "type": "nominal"},
        "angle": {"field": "a", "type": "quantitative", "scale": null}
      }
    },
    {
      "data": {"name": "notes"},
      "mark": {"type": "text", "font": "DejaVu Serif", "fontSize": 57, "color": "#333333", "align": "center", "baseline": "middle"},
      "encoding": {
        "x": {"field": "w", "type": "quantitative", "scale": {"domain": [3200, 10000], "nice": false, "zero": false},
          "axis": {"orient": "bottom", "values": [3400,3600,3800,4200,4400,4600,4800,5200,5400,5600,5800,6200,6400,6600,6800,7200,7400,7600,7800,8200,8400,8600,8800,9200,9400,9600,9800], "labels": false, "domain": false, "grid": false, "ticks": true, "tickSize": -15, "tickWidth": 3, "tickColor": "#444444", "title": null}},
        "y": {"field": "f", "type": "quantitative", "scale": {"type": "log", "domain": [10000, 3126000000], "nice": false},
          "axis": {"orient": "left", "values": [20000,30000,40000,50000,60000,70000,80000,90000,200000,300000,400000,500000,600000,700000,800000,900000,2000000,3000000,4000000,5000000,6000000,7000000,8000000,9000000,20000000,30000000,40000000,50000000,60000000,70000000,80000000,90000000,200000000,300000000,400000000,500000000,600000000,700000000,800000000,900000000,2000000000,3000000000], "labels": false, "domain": false, "grid": false, "ticks": true, "tickSize": -24, "tickWidth": 3, "tickColor": "#444444", "title": null}},
        "text": {"field": "t", "type": "nominal"}
      }
    },
    {
      "data": {"name": "heading"},
      "mark": {"type": "text", "font": "Liberation Sans", "fontWeight": "bold", "fontSize": 96, "color": "#0433ff", "align": "center", "baseline": "alphabetic"},
      "encoding": {
        "x": {"field": "w", "type": "quantitative", "scale": {"domain": [3200, 10000], "nice": false, "zero": false},
          "axis": {"orient": "top", "values": [4000,5000,6000,7000,8000,9000,10000], "labels": false, "domain": false, "grid": false, "ticks": true, "tickSize": -30, "tickWidth": 3, "tickColor": "#444444", "title": null}},
        "y": {"field": "f", "type": "quantitative", "scale": {"type": "log", "domain": [10000, 3126000000], "nice": false},
          "axis": {"orient": "right", "values": [10000,100000,1000000,10000000,100000000,1000000000], "labels": false, "domain": false, "grid": false, "ticks": true, "tickSize": -45, "tickWidth": 3, "tickColor": "#444444", "title": null}},
        "text": {"field": "t", "type": "nominal"}
      }
    },
    {
      "data": {"name": "heading"},
      "mark": {"type": "point", "opacity": 0},
      "encoding": {
        "x": {"field": "w", "type": "quantitative", "scale": {"domain": [3200, 10000], "nice": false, "zero": false},
          "axis": {"orient": "top", "values": [3400,3600,3800,4200,4400,4600,4800,5200,5400,5600,5800,6200,6400,6600,6800,7200,7400,7600,7800,8200,8400,8600,8800,9200,9400,9600,9800], "labels": false, "domain": false, "grid": false, "ticks": true, "tickSize": -15, "tickWidth": 3, "tickColor": "#444444", "title": null}},
        "y": {"field": "f", "type": "quantitative", "scale": {"type": "log", "domain": [10000, 3126000000], "nice": false},
          "axis": {"orient": "right", "values": [20000,30000,40000,50000,60000,70000,80000,90000,200000,300000,400000,500000,600000,700000,800000,900000,2000000,3000000,4000000,5000000,6000000,7000000,8000000,9000000,20000000,30000000,40000000,50000000,60000000,70000000,80000000,90000000,200000000,300000000,400000000,500000000,600000000,700000000,800000000,900000000,2000000000,3000000000], "labels": false, "domain": false, "grid": false, "ticks": true, "tickSize": -24, "tickWidth": 3, "tickColor": "#444444", "title": null}}
      }
    }
  ]
}
